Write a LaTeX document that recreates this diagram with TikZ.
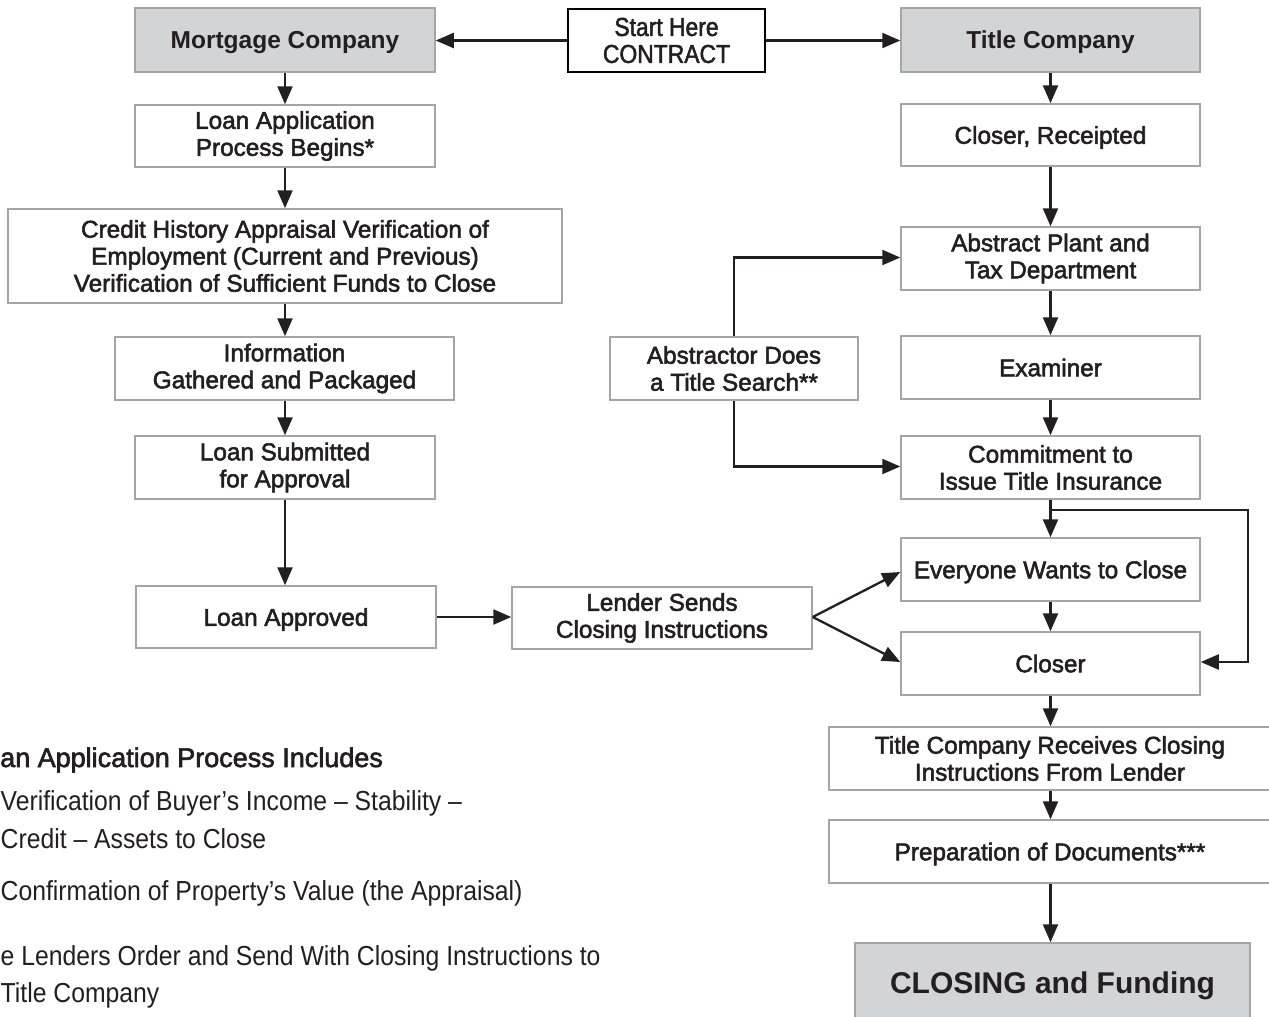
\documentclass[tikz,border=0pt]{standalone}
\usepackage{fontspec}
\setmainfont{Liberation Sans}
\newfontfamily\medfont{Liberation Sans}[FakeBold=2.2]
\newfontfamily\condfont{Liberation Sans}[FakeStretch=0.9]
\newfontfamily\condmedfont{Liberation Sans}[FakeStretch=0.88,FakeBold=1.8]
\usetikzlibrary{arrows.meta}
\definecolor{boxline}{RGB}{165,165,168}
\definecolor{boxfill}{RGB}{211,212,214}
\definecolor{ink}{RGB}{35,31,32}
\begin{document}
\begin{tikzpicture}[x=1pt,y=-1pt,
  box/.style={draw=boxline, line width=1.5pt, fill=white, inner sep=0pt, align=center, text=ink,
    font=\medfont\fontsize{24.3}{27}\selectfont},
  one/.style={text height=17.5pt, text depth=0pt},
  headbox/.style={box, fill=boxfill, font=\bfseries\fontsize{24.5}{27}\selectfont},
  arr/.style={draw=ink, line width=2.3pt, -{Triangle[length=18pt,width=15pt]}},
  note/.style={anchor=base west, inner sep=0pt, text=ink, font=\condfont\fontsize{27.5}{30}\selectfont}
]
\useasboundingbox[fill=white] (0,0) rectangle (1269,1017);

% top row
\node[headbox, one, minimum width=300pt, minimum height=64pt] (mortgage) at (285,40) {Mortgage Company};
\node[box, draw=black, minimum width=197pt, minimum height=63pt, font=\condmedfont\fontsize{26}{27}\selectfont] (start) at (666.5,40.5) {Start Here\\CONTRACT};
\node[headbox, one, minimum width=299pt, minimum height=64pt] (title) at (1050.5,40) {Title Company};

% left column
\node[box, minimum width=300pt, minimum height=62pt] (loanapp) at (285,136) {Loan Application\\Process Begins*};
\node[box, minimum width=554pt, minimum height=94pt] (credit) at (285,256) {Credit History Appraisal Verification of\\Employment (Current and Previous)\\Verification of Sufficient Funds to Close};
\node[box, minimum width=339pt, minimum height=63pt] (info) at (284.5,368.5) {Information\\Gathered and Packaged};
\node[box, minimum width=300pt, minimum height=63pt] (submit) at (285,467.5) {Loan Submitted\\for Approval};
\node[box, one, minimum width=300pt, minimum height=62pt] (approved) at (286,617) {Loan Approved};
\node[box, minimum width=300pt, minimum height=62pt] (lender) at (662,618) {Lender Sends\\Closing Instructions};

% right column
\node[box, one, minimum width=299pt, minimum height=62pt] (receipted) at (1050.5,135) {Closer, Receipted};
\node[box, minimum width=299pt, minimum height=63pt] (abstract) at (1050.5,258.5) {Abstract Plant and\\Tax Department};
\node[box, one, minimum width=299pt, minimum height=63pt] (examiner) at (1050.5,367.5) {Examiner};
\node[box, minimum width=248pt, minimum height=63pt] (abstractor) at (734,368.5) {Abstractor Does\\a Title Search**};
\node[box, minimum width=299pt, minimum height=63pt] (commit) at (1050.5,467.5) {Commitment to\\Issue Title Insurance};
\node[box, one, minimum width=299pt, minimum height=63pt] (everyone) at (1050.5,569.5) {Everyone Wants to Close};
\node[box, one, minimum width=299pt, minimum height=63pt] (closer) at (1050.5,663.5) {Closer};
\node[box, minimum width=442pt, minimum height=63pt] (titlerec) at (1050,758.5) {Title Company Receives Closing\\Instructions From Lender};
\node[box, one, minimum width=442pt, minimum height=63pt] (prep) at (1050,851.5) {Preparation of Documents***};
\node[headbox, minimum width=395pt, minimum height=79pt, text height=21.5pt, text depth=0pt,
  font=\bfseries\fontsize{30}{32}\selectfont] (closing) at (1052.5,982.5) {CLOSING and Funding};

% arrows top
\draw[arr] (start.west) -- (mortgage.east |- start.west);
\draw[arr] (start.east) -- (title.west |- start.east);

% left column arrows
\draw[arr] (mortgage.south) -- (mortgage.south |- loanapp.north);
\draw[arr] (loanapp.south) -- (loanapp.south |- credit.north);
\draw[arr] (credit.south) -- (credit.south |- info.north);
\draw[arr] (credit.south |- info.south) -- (credit.south |- submit.north);
\draw[arr] (submit.south) -- (submit.south |- approved.north);
\draw[arr] (approved.east) -- (lender.west |- approved.east);

% right column arrows
\draw[arr] (title.south) -- (title.south |- receipted.north);
\draw[arr] (receipted.south) -- (abstract.north);
\draw[arr] (abstract.south) -- (examiner.north);
\draw[arr] (examiner.south) -- (commit.north);
\draw[arr] (commit.south) -- (everyone.north);
\draw[arr] (everyone.south) -- (closer.north);
\draw[arr] (closer.south) -- (closer.south |- titlerec.north);
\draw[arr] (closer.south |- titlerec.south) -- (closer.south |- prep.north);
\draw[arr] (closer.south |- prep.south) -- (closer.south |- closing.north);

% abstractor branches
\draw[arr] (abstractor.north) |- ([yshift=1pt]abstract.west);
\draw[arr] (abstractor.south) |- ([yshift=1pt]commit.west);

% lender fork
\draw[arr] ([yshift=1pt]lender.east) -- ([yshift=-2.5pt]everyone.west);
\draw[arr] ([yshift=1pt]lender.east) -- ([yshift=1.5pt]closer.west);

% loop to closer
\coordinate (lc) at (1248,510);
\draw[arr, line join=miter] (commit.south |- lc) -- (lc) |- ([yshift=1.5pt]closer.east);

% notes
\node[note, font=\medfont\fontsize{27}{30}\selectfont] (n0) at (0,767) {an Application Process Includes};
\node[note] (n1) at (0.5,810) {Verification of Buyer’s Income – Stability –};
\node[note] (n2) at (0.5,848) {Credit – Assets to Close};
\node[note] (n3) at (0.5,900) {Confirmation of Property’s Value (the Appraisal)};
\node[note] (n4) at (0.5,965) {e Lenders Order and Send With Closing Instructions to};
\node[note] (n5) at (0.5,1002) {Title Company};
\end{tikzpicture}
\end{document}
